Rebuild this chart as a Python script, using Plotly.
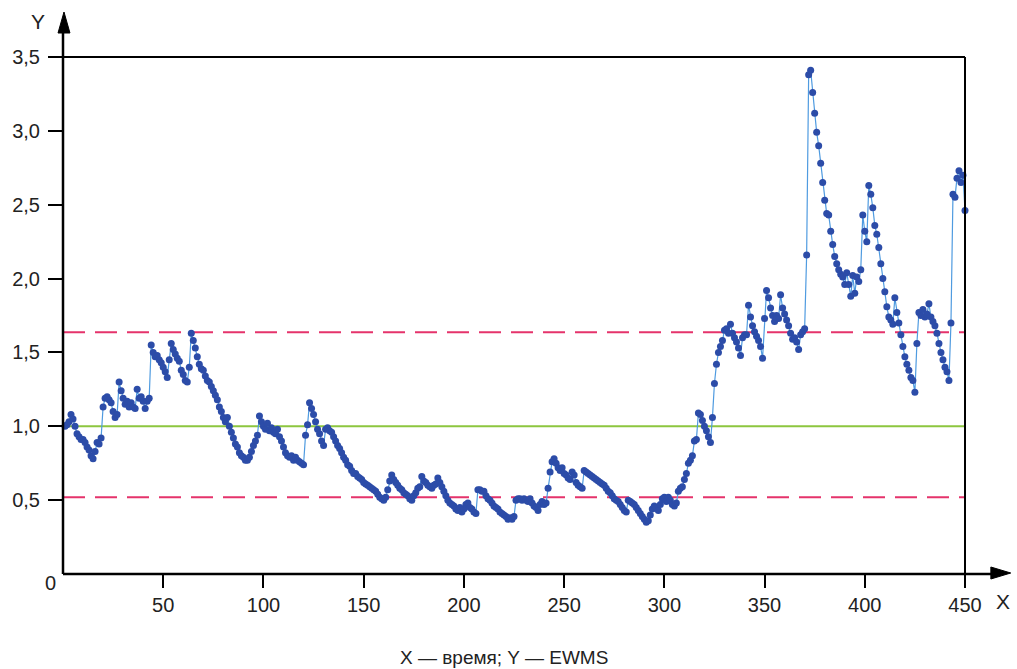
import plotly.graph_objects as go

# EWMS values, one per time step (x = 1..450)
ewms = [
    1.00, 1.01, 1.03, 1.08, 1.05, 1.00, 0.95, 0.93, 0.91, 0.91,
    0.89, 0.86, 0.84, 0.80, 0.78, 0.83, 0.89, 0.88, 0.92, 1.13,
    1.19, 1.20, 1.18, 1.16, 1.10, 1.06, 1.08, 1.30, 1.24, 1.19,
    1.15, 1.17, 1.13, 1.16, 1.13, 1.12, 1.25, 1.19, 1.20, 1.17,
    1.12, 1.17, 1.19, 1.55, 1.50, 1.47, 1.48, 1.45, 1.43, 1.40,
    1.37, 1.33, 1.45, 1.56, 1.52, 1.49, 1.46, 1.44, 1.38, 1.35,
    1.31, 1.30, 1.40, 1.63, 1.58, 1.53, 1.47, 1.42, 1.39, 1.38,
    1.34, 1.31, 1.30, 1.27, 1.24, 1.21, 1.18, 1.13, 1.10, 1.06,
    1.03, 1.06, 1.00, 0.96, 0.92, 0.88, 0.86, 0.82, 0.80, 0.79,
    0.77, 0.77, 0.79, 0.83, 0.87, 0.90, 0.94, 1.07, 1.03, 1.00,
    0.98, 1.02, 0.97, 0.99, 0.96, 0.95, 0.98, 0.93, 0.90, 0.86,
    0.82, 0.80, 0.79, 0.80, 0.77, 0.79, 0.77, 0.76, 0.75, 0.74,
    0.94, 1.01, 1.16, 1.12, 1.08, 1.03, 0.98, 0.95, 0.90, 0.87,
    0.98, 0.99, 0.97, 0.96, 0.93, 0.90, 0.87, 0.85, 0.82, 0.79,
    0.77, 0.74, 0.73, 0.70, 0.68, 0.68, 0.66, 0.65, 0.64, 0.62,
    0.61, 0.60, 0.59, 0.58, 0.57, 0.56, 0.54, 0.52, 0.51, 0.50,
    0.52, 0.57, 0.63, 0.67, 0.64, 0.62, 0.60, 0.58, 0.57, 0.55,
    0.54, 0.53, 0.51, 0.50, 0.53, 0.55, 0.58, 0.59, 0.66, 0.63,
    0.62, 0.60, 0.59, 0.58, 0.60, 0.61, 0.65, 0.62, 0.59, 0.56,
    0.53, 0.50, 0.48, 0.47, 0.46, 0.44, 0.43, 0.45, 0.42, 0.44,
    0.47, 0.48, 0.45, 0.44, 0.42, 0.41, 0.57, 0.57, 0.56, 0.56,
    0.53, 0.51, 0.50, 0.48, 0.46, 0.45, 0.44, 0.42, 0.41, 0.40,
    0.39, 0.37, 0.38, 0.37, 0.39, 0.50, 0.51, 0.51, 0.50, 0.51,
    0.50, 0.49, 0.51, 0.48, 0.46, 0.45, 0.43, 0.47, 0.49, 0.47,
    0.48, 0.58, 0.69, 0.76, 0.78, 0.75, 0.72, 0.70, 0.72, 0.68,
    0.67, 0.65, 0.64, 0.69, 0.67, 0.62, 0.60, 0.59, 0.58, 0.70,
    0.69, 0.68, 0.67, 0.66, 0.65, 0.64, 0.63, 0.62, 0.61, 0.60,
    0.58, 0.56, 0.55, 0.53, 0.51, 0.50, 0.49, 0.47, 0.45, 0.43,
    0.42, 0.50, 0.49, 0.48, 0.47, 0.45, 0.43, 0.41, 0.39, 0.37,
    0.35, 0.36, 0.40, 0.44, 0.46, 0.45, 0.43, 0.47, 0.51, 0.52,
    0.49, 0.52, 0.50, 0.47, 0.46, 0.48, 0.56, 0.58, 0.59, 0.64,
    0.68, 0.75, 0.77, 0.80, 0.90, 0.91, 1.09, 1.08, 1.04, 1.00,
    0.97, 0.93, 0.89, 1.06, 1.29, 1.42, 1.50, 1.54, 1.58, 1.65,
    1.66, 1.63, 1.69, 1.63, 1.60, 1.57, 1.53, 1.48, 1.60, 1.62,
    1.62, 1.82, 1.74, 1.68, 1.64, 1.61, 1.58, 1.54, 1.46, 1.73,
    1.92, 1.87, 1.80, 1.75, 1.71, 1.75, 1.73, 1.89, 1.80, 1.76,
    1.72, 1.68, 1.63, 1.59, 1.60, 1.57, 1.52, 1.62, 1.64, 1.66,
    2.16, 3.38, 3.41, 3.26, 3.12, 2.99, 2.90, 2.78, 2.65, 2.53,
    2.44, 2.43, 2.32, 2.23, 2.15, 2.10, 2.06, 2.03, 2.01, 1.96,
    2.04, 1.96, 1.88, 2.02, 1.90, 2.01, 1.98, 2.06, 2.43, 2.32,
    2.25, 2.63, 2.57, 2.48, 2.36, 2.30, 2.21, 2.10, 2.00, 1.91,
    1.81, 1.74, 1.72, 1.69, 1.87, 1.77, 1.70, 1.62, 1.54, 1.47,
    1.42, 1.38, 1.33, 1.31, 1.23, 1.56, 1.77, 1.75, 1.79, 1.74,
    1.76, 1.83, 1.74, 1.71, 1.68, 1.63, 1.56, 1.50, 1.45, 1.40,
    1.37, 1.31, 1.70, 2.57, 2.55, 2.68, 2.73, 2.65, 2.70, 2.46,
]
time = list(range(1, len(ewms) + 1))

center_line = 1.0
upper_limit = 1.636
lower_limit = 0.519

x_tick_vals = [50, 100, 150, 200, 250, 300, 350, 400, 450]
x_tick_text = ["50", "100", "150", "200", "250", "300", "350", "400", "450"]
y_tick_vals = [0.5, 1.0, 1.5, 2.0, 2.5, 3.0, 3.5]
y_tick_text = ["0,5", "1,0", "1,5", "2,0", "2,5", "3,0", "3,5"]

W, H = 1017, 669
L, R, T, B = 58, 52, 57, 95
pw, ph = W - L - R, H - T - B

def px_x(p):  # pixel x -> paper x
    return (p - L) / pw

def px_y(p):  # pixel y -> paper y
    return (H - B - p) / ph

FONT = "Liberation Sans, Arial, sans-serif"
TXT = "#222222"

fig = go.Figure()

fig.add_trace(go.Scatter(
    x=time, y=ewms, mode="lines+markers",
    line=dict(color="#4f9be0", width=1.2),
    marker=dict(color="#2c4ca8", size=7),
    cliponaxis=False, showlegend=False,
))

shapes = []
shapes.append(dict(type="line", xref="x", yref="y", x0=0, x1=450, y0=center_line, y1=center_line,
                   line=dict(color="#8dc63f", width=2), layer="below"))
for v in (upper_limit, lower_limit):
    shapes.append(dict(type="line", xref="x", yref="y", x0=0, x1=450, y0=v, y1=v,
                       line=dict(color="#e5336b", width=2, dash="22px,10px"), layer="below"))
shapes.append(dict(type="line", xref="paper", yref="paper", x0=0, x1=1, y0=1, y1=1,
                   line=dict(color="black", width=2)))
shapes.append(dict(type="line", xref="paper", yref="paper", x0=1, x1=1, y0=0, y1=1,
                   line=dict(color="black", width=2)))
shapes.append(dict(type="line", xref="paper", yref="paper", x0=0, x1=0, y0=0, y1=px_y(32),
                   line=dict(color="black", width=2.5)))
shapes.append(dict(type="line", xref="paper", yref="paper", x0=0, x1=px_x(994), y0=0, y1=0,
                   line=dict(color="black", width=2.5)))
shapes.append(dict(type="path", xref="paper", yref="paper",
                   path=f"M {px_x(59)} {px_y(12)} L {px_x(53)} {px_y(33)} L {px_x(65)} {px_y(33)} Z",
                   fillcolor="black", line=dict(color="black", width=1)))
shapes.append(dict(type="path", xref="paper", yref="paper",
                   path=f"M {px_x(1011)} {px_y(573)} L {px_x(991)} {px_y(567)} L {px_x(991)} {px_y(579)} Z",
                   fillcolor="black", line=dict(color="black", width=1)))

def label(text, cx, cy, size):
    return dict(text=text, x=px_x(cx), y=px_y(cy), xref="paper", yref="paper",
                xanchor="center", yanchor="middle", showarrow=False,
                font=dict(family=FONT, size=size, color=TXT))

annotations = [
    label("Y", 33, 22, 21),
    label("X", 1003, 601, 21),
    label("0", 45, 583, 20),
    label("X — время; Y — EWMS", 501, 657, 19),
]

fig.update_layout(
    width=W, height=H, autosize=False,
    margin=dict(l=L, r=R, t=T, b=B, pad=0),
    paper_bgcolor="white", plot_bgcolor="white",
    shapes=shapes, annotations=annotations,
    xaxis=dict(range=[0, 450], showgrid=False, zeroline=False, showline=False,
               tickmode="array", tickvals=x_tick_vals, ticktext=x_tick_text,
               ticks="outside", ticklen=13, tickwidth=1.5, tickcolor="black",
               ticklabelstandoff=0,
               tickfont=dict(family=FONT, size=20, color=TXT)),
    yaxis=dict(range=[0, 3.5], showgrid=False, zeroline=False, showline=False,
               tickmode="array", tickvals=y_tick_vals, ticktext=y_tick_text,
               ticks="outside", ticklen=14, tickwidth=1.5, tickcolor="black",
               ticklabelstandoff=4,
               tickfont=dict(family=FONT, size=20, color=TXT)),
)

fig.write_html("out.html")
